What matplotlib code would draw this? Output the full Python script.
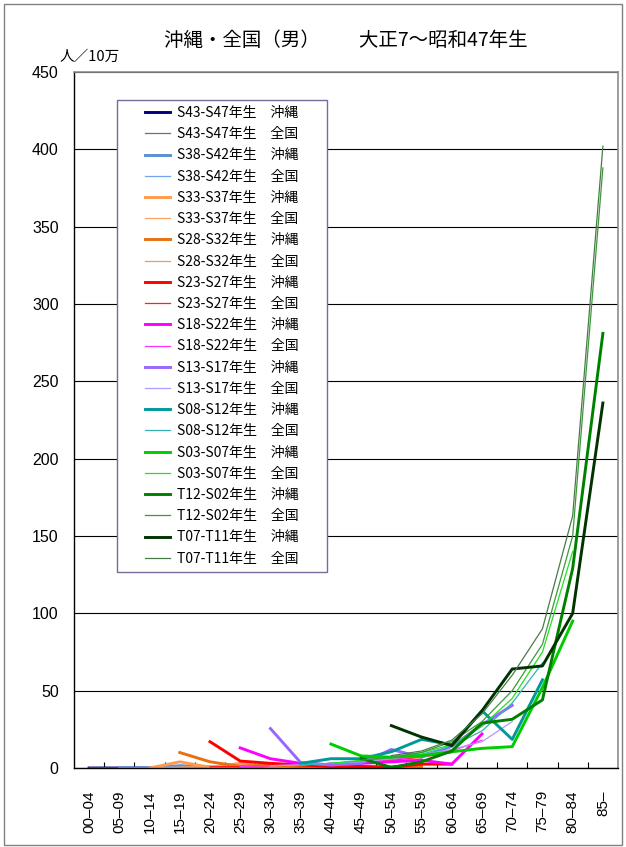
import numpy as np
import matplotlib
matplotlib.use("Agg")
import matplotlib.pyplot as plt
from matplotlib.patches import Rectangle

plt.rcParams['font.family'] = ['Noto Sans CJK JP', 'DejaVu Sans']

categories = ["00–04", "05–09", "10–14", "15–19", "20–24", "25–29", "30–34", "35–39",
              "40–44", "45–49", "50–54", "55–59", "60–64", "65–69", "70–74", "75–79",
              "80–84", "85–"]
y_ticks = [0, 50, 100, 150, 200, 250, 300, 350, 400, 450]

N = None
# 沖縄 (Okinawa) and 全国 (national) cohort values, one value per age group
oki_S43_S47 = [0, 0, 0, 0.5, 0.5, 0.5, 1, 1, 1, N, N, N, N, N, N, N, N, N]
nat_S43_S47 = [0.1, 0.1, 0.2, 0.5, 0.8, 1, 1.5, 2, 2.5, N, N, N, N, N, N, N, N, N]
oki_S38_S42 = [N, 0, 0, 1.5, 0.5, 0.5, 0.5, 1, 2, 2, N, N, N, N, N, N, N, N]
nat_S38_S42 = [N, 0.1, 0.2, 0.5, 0.8, 1, 1.5, 2, 2.5, 3.5, N, N, N, N, N, N, N, N]
oki_S33_S37 = [N, N, 0, 4, 0.5, 3, 1, 1, 0.5, 1, 0.5, N, N, N, N, N, N, N]
nat_S33_S37 = [N, N, 0.2, 0.5, 0.8, 1, 1.5, 2, 2.5, 3.5, 4.5, N, N, N, N, N, N, N]
oki_S28_S32 = [N, N, N, 10, 4, 1, 2, 1, 0.5, 0.5, 0.5, 1, N, N, N, N, N, N]
nat_S28_S32 = [N, N, N, 0.5, 0.8, 1, 1.5, 2, 3, 3.5, 4.5, 6, N, N, N, N, N, N]
oki_S23_S27 = [N, N, N, N, 17, 4.5, 3, 2, 1, 1, 0.5, 2.5, 2.5, N, N, N, N, N]
nat_S23_S27 = [N, N, N, N, 0.8, 1, 1.5, 2, 3, 4, 5, 7, 10, N, N, N, N, N]
oki_S18_S22 = [N, N, N, N, N, 13, 6, 3, 2, 3, 4, 5, 2.5, 22, N, N, N, N]
nat_S18_S22 = [N, N, N, N, N, 1, 1.5, 2, 3, 4, 5.5, 7.5, 11, 18, N, N, N, N]
oki_S13_S17 = [N, N, N, N, N, N, 25.5, 3.5, 2, 3, 12, 7, 14, 28, 40.5, N, N, N]
nat_S13_S17 = [N, N, N, N, N, N, 1.5, 2, 3, 4, 6, 8.5, 12, 17, 30, N, N, N]
oki_S08_S12 = [N, N, N, N, N, N, N, 3, 6, 6, 10.5, 18.5, 15, 37, 18.5, 57, N, N]
nat_S08_S12 = [N, N, N, N, N, N, N, 2, 3, 4.5, 6.5, 9, 14, 24, 42, 68, N, N]
oki_S03_S07 = [N, N, N, N, N, N, N, N, 15.5, 7.8, 7, 8, 10.5, 12.7, 13.8, 52, 95, N]
nat_S03_S07 = [N, N, N, N, N, N, N, N, 3, 5, 7, 10, 15, 27, 45, 75, 140, N]
oki_T12_S02 = [N, N, N, N, N, N, N, N, N, 6.2, 0.4, 4, 11, 29, 31.5, 44, 129, 281]
nat_T12_S02 = [N, N, N, N, N, N, N, N, N, 5, 7, 10, 17, 30, 50, 80, 150, 388]
oki_T07_T11 = [N, N, N, N, N, N, N, N, N, N, 27.4, 20, 14.5, 37, 64, 66, 100, 236]
nat_T07_T11 = [N, N, N, N, N, N, N, N, N, N, 8, 11, 18, 35, 60, 90, 163, 402]

cohort_labels = ["S43-S47", "S38-S42", "S33-S37", "S28-S32", "S23-S27", "S18-S22",
                 "S13-S17", "S08-S12", "S03-S07", "T12-S02", "T07-T11"]
oki_series = [oki_S43_S47, oki_S38_S42, oki_S33_S37, oki_S28_S32, oki_S23_S27, oki_S18_S22,
              oki_S13_S17, oki_S08_S12, oki_S03_S07, oki_T12_S02, oki_T07_T11]
nat_series = [nat_S43_S47, nat_S38_S42, nat_S33_S37, nat_S28_S32, nat_S23_S27, nat_S18_S22,
              nat_S13_S17, nat_S08_S12, nat_S03_S07, nat_T12_S02, nat_T07_T11]
oki_colors = ["#000080", "#5B8FD6", "#FF9A50", "#E8700F", "#FF0000", "#FF00FF",
              "#9966FF", "#009999", "#00CC00", "#008000", "#003300"]
nat_colors = ["#66708A", "#6FA4EC", "#FFA060", "#F59A55", "#FF2020", "#FF30FF",
              "#B399FF", "#33B3B3", "#22E022", "#3A9A3A", "#4A7A4A"]

fig = plt.figure(figsize=(6.26, 8.47), dpi=100)
ax = fig.add_axes([74/626, 1-768/847, 544/626, 696/847])

x = np.arange(len(categories))
handles = []
for lab, o, n, co, cn in zip(cohort_labels, oki_series, nat_series, oki_colors, nat_colors):
    ov = np.array([np.nan if v is None else v for v in o], dtype=float)
    nv = np.array([np.nan if v is None else v for v in n], dtype=float)
    h1, = ax.plot(x, ov, color=co, lw=2.1, solid_joinstyle='round',
                  label=f"{lab}年生\u3000沖縄")
    h2, = ax.plot(x, nv, color=cn, lw=0.9, label=f"{lab}年生\u3000全国")
    handles += [h1, h2]

ax.set_xlim(-0.5, len(categories) - 0.5)
ax.set_ylim(0, 450)
ax.set_yticks(y_ticks)
ax.set_yticklabels([str(v) for v in y_ticks], fontsize=11.5, family=['Liberation Sans'])
ax.tick_params(axis='y', length=0, pad=11)
ax.set_xticks(x)
ax.set_xticklabels(categories, rotation=90, fontsize=11, family=['Liberation Sans'],
                   va='top', ha='center')
ax.tick_params(axis='x', which='major', length=0, pad=16)
ax.set_xticks(np.arange(0.5, len(categories) - 0.5, 1), minor=True)
ax.tick_params(axis='x', which='minor', length=4, direction='in', color='black', width=0.8)
ax.grid(axis='y', color='black', lw=0.8)
ax.set_axisbelow(True)
for s in ['top', 'right']:
    ax.spines[s].set_color('#8C8C8C')
    ax.spines[s].set_linewidth(1.2)
for s in ['left', 'bottom']:
    ax.spines[s].set_color('black')
    ax.spines[s].set_linewidth(1.0)

# legend frame drawn as a box, entries placed inside it
def ax_xy(px, py):
    return ((px - 74) / 544, (768 - py) / 696)

fx0, fy0 = ax_xy(117, 572)
fx1, fy1 = ax_xy(327, 100)
ax.add_patch(Rectangle((fx0, fy0), fx1 - fx0, fy1 - fy0, transform=ax.transAxes,
                       facecolor='white', edgecolor='#7A6A9A', lw=1.0, zorder=5))
leg = ax.legend(handles=handles, loc='upper left', bbox_to_anchor=ax_xy(145, 106),
                borderaxespad=0, borderpad=0, fontsize=10, frameon=False,
                handlelength=1.8, handletextpad=0.5, labelspacing=0.52)
leg.set_zorder(6)

fig.text(346/626, 1-40/847, "沖縄・全国（男）\u3000\u3000大正7〜昭和47年生", ha='center', va='center',
         fontsize=14)
fig.text(60/626, 1-57/847, "人／10万", ha='left', va='center', fontsize=10.5)

fig.patches.append(Rectangle((4/626, 2/847), 618/626, 841/847, transform=fig.transFigure,
                             fill=False, edgecolor='#808080', lw=1.0))

fig.savefig("out.png", dpi=100)
